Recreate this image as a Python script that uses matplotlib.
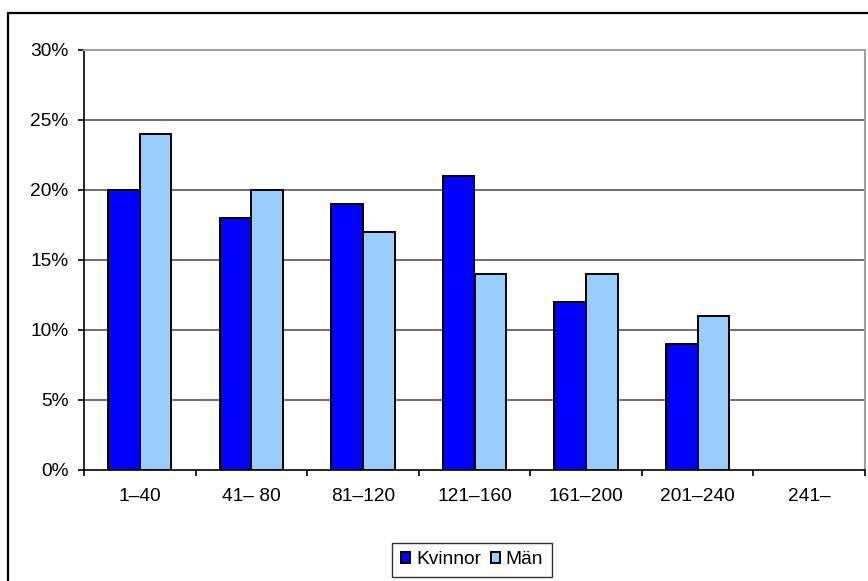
import matplotlib.pyplot as plt
import numpy as np
from matplotlib.patches import Rectangle
from matplotlib.ticker import FuncFormatter

# age groups (minutes) and shares in percent
categories = ["1\u201340", "41\u2013 80", "81\u2013120", "121\u2013160",
              "161\u2013200", "201\u2013240", "241\u2013"]
kvinnor = [20, 18, 19, 21, 12, 9, 0]
man = [24, 20, 17, 14, 14, 11, 0]
yticks = [0, 5, 10, 15, 20, 25, 30]

plt.rcParams["font.family"] = ["Liberation Sans", "DejaVu Sans"]
plt.rcParams["font.size"] = 13.8

W, H = 868, 581
fig = plt.figure(figsize=(W / 100, H / 100), dpi=100)
ax = fig.add_axes([84 / W, 1 - 470 / H, (865 - 84) / W, (470 - 50) / H])

x = np.arange(len(categories))
w = 0.283
drawn = [i for i in x if kvinnor[i] or man[i]]
ax.bar(x[drawn] - w / 2, np.array(kvinnor)[drawn], w, color="#0000FF",
       edgecolor="black", linewidth=1.4, label="Kvinnor", zorder=3)
ax.bar(x[drawn] + w / 2, np.array(man)[drawn], w, color="#99CCFF",
       edgecolor="black", linewidth=1.4, label="M\u00e4n", zorder=3)

ax.set_xlim(-0.5, len(categories) - 0.5)
ax.set_ylim(0, 30)
ax.set_yticks(yticks)
ax.yaxis.set_major_formatter(FuncFormatter(lambda v, _: f"{v:.0f}%"))
ax.set_xticks(x)
ax.set_xticklabels(categories)
ax.set_xticks(np.arange(len(categories) + 1) - 0.5, minor=True)
ax.tick_params(axis="x", which="major", length=0, pad=13)
ax.tick_params(axis="x", which="minor", length=4, width=1.2, direction="out")
ax.tick_params(axis="y", length=4, width=1.2, direction="out", pad=7)

for y in yticks[1:-1]:
    ax.axhline(y, color="#555555", linewidth=1.2, zorder=1)
ax.spines["top"].set_color("#A0A0A0")
ax.spines["right"].set_color("#A0A0A0")
ax.spines["top"].set_linewidth(1.5)
ax.spines["right"].set_linewidth(1.5)
ax.spines["left"].set_linewidth(1.2)
ax.spines["bottom"].set_linewidth(1.2)

leg = ax.legend(loc="center", bbox_to_anchor=(472 / W, 1 - 560 / H),
                bbox_transform=fig.transFigure, ncol=2, frameon=True,
                fancybox=False, edgecolor="black", handlelength=0.5,
                handleheight=0.5, handletextpad=0.3, columnspacing=0.5,
                borderpad=0.45, fontsize=13.8)
leg.get_frame().set_linewidth(1.0)

# outer chart border, cut off at right and bottom
fig.patches.append(Rectangle((8 / W, -0.1), 1.2, 1 - 13 / H + 0.1,
                             transform=fig.transFigure, fill=False,
                             edgecolor="black", linewidth=1.6))

fig.savefig("out.png", dpi=100)
